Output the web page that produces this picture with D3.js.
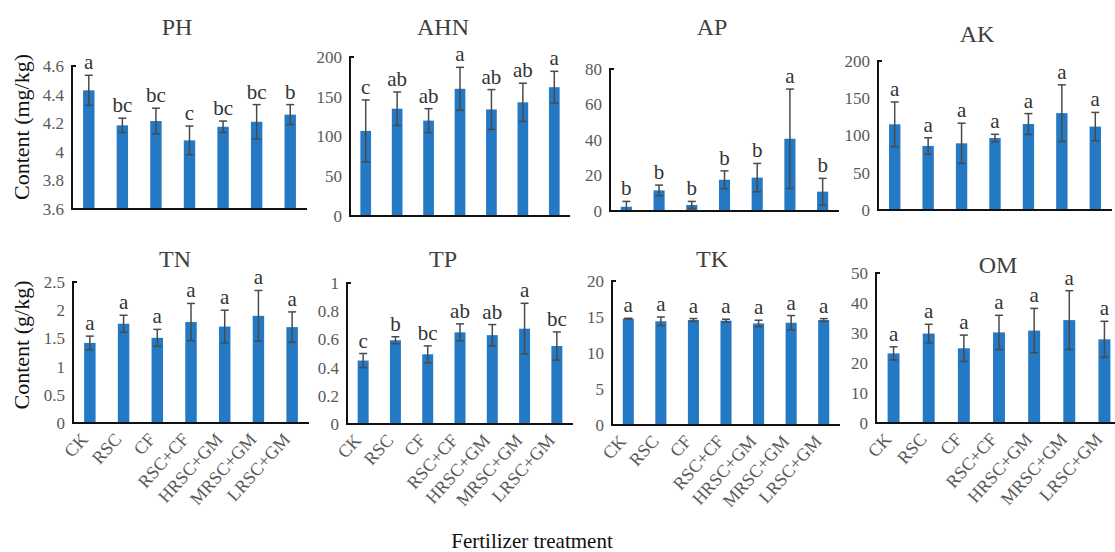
<!DOCTYPE html>
<html>
<head>
<meta charset="utf-8">
<script src="https://cdn.jsdelivr.net/npm/d3@7"></script>
<style>
  html, body { margin: 0; padding: 0; background: #fff; }
  svg { display: block; }
</style>
</head>
<body>
<svg id="chart" width="1115" height="552"></svg>
<script>
// ---------- DATA ----------
const categories = ["CK", "RSC", "CF", "RSC+CF", "HRSC+GM", "MRSC+GM", "LRSC+GM"];

const phMean = [4.43, 4.185, 4.215, 4.08, 4.175, 4.21, 4.26];
const phSd   = [0.105, 0.05, 0.09, 0.10, 0.04, 0.12, 0.07];
const phLetters = ["a", "bc", "bc", "c", "bc", "bc", "b"];
const phTicks = [3.6, 3.8, 4.0, 4.2, 4.4, 4.6];

const ahnMean = [107, 135, 120, 160, 134, 143, 162];
const ahnSd   = [39, 21, 15, 27, 25, 24, 20];
const ahnLetters = ["c", "ab", "ab", "a", "ab", "ab", "a"];
const ahnTicks = [0, 50, 100, 150, 200];

const apMean = [2.4, 11.6, 3.4, 17.6, 18.8, 40.7, 10.9];
const apSd   = [3, 3, 2, 5, 8, 28, 7.5];
const apLetters = ["b", "b", "b", "b", "b", "a", "b"];
const apTicks = [0, 20, 40, 60, 80];

const akMean = [115, 86, 89.5, 96.6, 115.4, 130, 112];
const akSd   = [30, 11, 27, 5, 14, 38, 19];
const akLetters = ["a", "a", "a", "a", "a", "a", "a"];
const akTicks = [0, 50, 100, 150, 200];

const tnMean = [1.42, 1.76, 1.51, 1.79, 1.71, 1.90, 1.70];
const tnSd   = [0.12, 0.15, 0.15, 0.33, 0.29, 0.45, 0.27];
const tnLetters = ["a", "a", "a", "a", "a", "a", "a"];
const tnTicks = [0, 0.5, 1, 1.5, 2, 2.5];

const tpMean = [0.45, 0.594, 0.494, 0.65, 0.63, 0.676, 0.553];
const tpSd   = [0.05, 0.025, 0.06, 0.06, 0.075, 0.18, 0.10];
const tpLetters = ["c", "b", "bc", "ab", "ab", "a", "bc"];
const tpTicks = [0, 0.2, 0.4, 0.6, 0.8, 1];

const tkMean = [14.77, 14.4, 14.58, 14.49, 14.1, 14.2, 14.58];
const tkSd   = [0.05, 0.6, 0.2, 0.2, 0.45, 1.0, 0.2];
const tkLetters = ["a", "a", "a", "a", "a", "a", "a"];
const tkTicks = [0, 5, 10, 15, 20];

const omMean = [23.2, 29.8, 24.9, 30.2, 30.8, 34.3, 27.9];
const omSd   = [2.2, 3.1, 4.4, 5.7, 7.4, 9.8, 6.0];
const omLetters = ["a", "a", "a", "a", "a", "a", "a"];
const omTicks = [0, 10, 20, 30, 40, 50];

const titles = ["PH", "AHN", "AP", "AK", "TN", "TP", "TK", "OM"];
const yLabels = ["Content (mg/kg)", "Content (g/kg)"];
const xLabel = "Fertilizer treatment";

// ---------- LAYOUT ----------
const panels = [
  { title: titles[0], mean: phMean, sd: phSd, letters: phLetters, ticks: phTicks, x0: 72, x1: 307, top: 66, bottom: 209, tx: 177, ty: 35, fmt: v => (v === 4 ? "4" : v.toFixed(1)) },
  { title: titles[1], mean: ahnMean, sd: ahnSd, letters: ahnLetters, ticks: ahnTicks, x0: 350, x1: 570, top: 57, bottom: 216, tx: 443, ty: 35 },
  { title: titles[2], mean: apMean, sd: apSd, letters: apLetters, ticks: apTicks, x0: 610, x1: 839, top: 69, bottom: 211, tx: 712, ty: 35 },
  { title: titles[3], mean: akMean, sd: akSd, letters: akLetters, ticks: akTicks, x0: 878, x1: 1112, top: 61, bottom: 210, tx: 977, ty: 42 },
  { title: titles[4], mean: tnMean, sd: tnSd, letters: tnLetters, ticks: tnTicks, x0: 73, x1: 309, top: 282, bottom: 423, tx: 175, ty: 267, xl: true },
  { title: titles[5], mean: tpMean, sd: tpSd, letters: tpLetters, ticks: tpTicks, x0: 347, x1: 573, top: 283, bottom: 424, tx: 443, ty: 267, xl: true },
  { title: titles[6], mean: tkMean, sd: tkSd, letters: tkLetters, ticks: tkTicks, x0: 612, x1: 840, top: 281, bottom: 425, tx: 712, ty: 267, xl: true },
  { title: titles[7], mean: omMean, sd: omSd, letters: omLetters, ticks: omTicks, x0: 876, x1: 1122, top: 273, bottom: 423, tx: 998, ty: 273, xl: true }
];

const serif = "'Liberation Serif', 'Times New Roman', serif";
const barColor = "#2479c4";
const errColor = "#4a4a4a";
const tickColor = "#595959";

const svg = d3.select("#chart");

panels.forEach(p => {
  const g = svg.append("g");
  const x = d3.scaleBand().domain(categories).range([p.x0, p.x1]).paddingInner(0.66).paddingOuter(0.33);
  const y = d3.scaleLinear().domain([p.ticks[0], p.ticks[p.ticks.length - 1]]).range([p.bottom, p.top]);

  // title
  g.append("text").attr("x", p.tx).attr("y", p.ty)
    .attr("text-anchor", "middle").attr("font-family", serif)
    .attr("font-size", 24).attr("fill", "#404040").text(p.title);

  // bars
  g.selectAll("rect.bar").data(categories).join("rect")
    .attr("class", "bar")
    .attr("x", d => x(d))
    .attr("width", x.bandwidth())
    .attr("y", (d, i) => y(p.mean[i]))
    .attr("height", (d, i) => y(p.ticks[0]) - y(p.mean[i]))
    .attr("fill", barColor);

  // error bars
  const eg = g.selectAll("g.err").data(categories).join("g").attr("class", "err");
  const cx = d => x(d) + x.bandwidth() / 2;
  const hi = (d, i) => y(p.mean[i] + p.sd[i]);
  const lo = (d, i) => y(Math.max(p.ticks[0], p.mean[i] - p.sd[i]));
  eg.append("line")
    .attr("x1", cx).attr("x2", cx).attr("y1", hi).attr("y2", lo)
    .attr("stroke", errColor).attr("stroke-width", 1.5);
  eg.append("line")
    .attr("x1", d => cx(d) - 4).attr("x2", d => cx(d) + 4).attr("y1", hi).attr("y2", hi)
    .attr("stroke", errColor).attr("stroke-width", 1.5);
  eg.append("line")
    .attr("x1", d => cx(d) - 4).attr("x2", d => cx(d) + 4).attr("y1", lo).attr("y2", lo)
    .attr("stroke", errColor).attr("stroke-width", 1.5);

  // letters
  g.selectAll("text.letter").data(categories).join("text")
    .attr("class", "letter")
    .attr("x", cx)
    .attr("y", (d, i) => hi(d, i) - 6)
    .attr("text-anchor", "middle").attr("font-family", serif)
    .attr("font-size", 21).attr("fill", "#333").text((d, i) => p.letters[i]);

  // y axis
  const yAxis = d3.axisLeft(y).tickValues(p.ticks).tickSize(0).tickPadding(8)
    .tickFormat(p.fmt || (v => String(v)));
  const ag = g.append("g").attr("transform", `translate(${p.x0},0)`).call(yAxis);
  ag.select(".domain").remove();
  ag.selectAll("text").attr("font-family", serif).attr("font-size", 17).attr("fill", tickColor);

  // axis lines (y with small top stub, x baseline)
  g.append("path")
    .attr("d", `M${p.x0 + 4},${p.top}H${p.x0}V${p.bottom}H${p.x1}`)
    .attr("fill", "none").attr("stroke", "#111").attr("stroke-width", 2);

  // x labels
  if (p.xl) {
    g.selectAll("text.xl").data(categories).join("text")
      .attr("class", "xl")
      .attr("transform", d => `translate(${cx(d) - 1},${p.bottom + 17}) rotate(-48)`)
      .attr("text-anchor", "end").attr("font-family", serif)
      .attr("font-size", 18).attr("fill", tickColor).text(d => d);
  }
});

// y labels
svg.append("text").attr("transform", "translate(29,127) rotate(-90)")
  .attr("text-anchor", "middle").attr("font-family", serif).attr("font-size", 22)
  .attr("fill", "#111").text(yLabels[0]);
svg.append("text").attr("transform", "translate(29,345) rotate(-90)")
  .attr("text-anchor", "middle").attr("font-family", serif).attr("font-size", 22)
  .attr("fill", "#111").text(yLabels[1]);

// x label
svg.append("text").attr("x", 532).attr("y", 548)
  .attr("text-anchor", "middle").attr("font-family", serif).attr("font-size", 21)
  .attr("fill", "#111").text(xLabel);
</script>
</body>
</html>
